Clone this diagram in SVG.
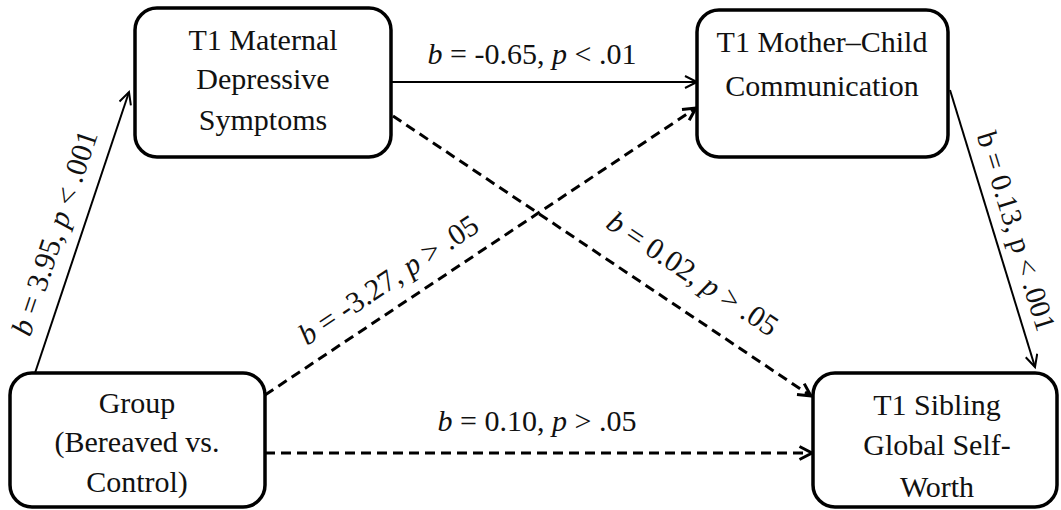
<svg xmlns="http://www.w3.org/2000/svg" width="1061" height="510" viewBox="0 0 1061 510">
  <style>
    .box { fill: #ffffff; stroke: #000000; stroke-width: 3.5; }
    .label { font-family: "Liberation Serif", "Times New Roman", serif; font-size: 30px; fill: #111111; }
    .node { text-anchor: middle; }
    .coef { text-anchor: middle; }
    .small { font-size: 29px; }
    .solid { fill: none; stroke: #000000; stroke-width: 2; }
    .dashed { fill: none; stroke: #000000; stroke-width: 3; stroke-dasharray: 10 6; }
    .it { font-style: italic; }
  </style>
  <defs>
    <marker id="arrowThin" markerUnits="userSpaceOnUse" markerWidth="16" markerHeight="16" refX="13" refY="7" orient="auto">
      <path d="M1,1 L13,7 L1,13" fill="none" stroke="#000000" stroke-width="2" stroke-dasharray="none"/>
    </marker>
    <marker id="arrowBold" markerUnits="userSpaceOnUse" markerWidth="18" markerHeight="18" refX="14" refY="8" orient="auto">
      <path d="M1.5,1.5 L14,8 L1.5,14.5" fill="none" stroke="#000000" stroke-width="3" stroke-dasharray="none"/>
    </marker>
  </defs>

  <!-- paths between the measures -->
  <g id="connectors">
    <path class="solid" d="M35,373 L129,92" marker-end="url(#arrowThin)"/>
    <path class="solid" d="M391,82 L697,82" marker-end="url(#arrowThin)"/>
    <path class="dashed" d="M393,116 L811,396" marker-end="url(#arrowBold)"/>
    <path class="dashed" d="M265,395 L696,108" marker-end="url(#arrowBold)"/>
    <path class="dashed" d="M265,453 L812,453" marker-end="url(#arrowBold)"/>
    <path class="solid" d="M950,90 L1035,367" marker-end="url(#arrowThin)"/>

    <text class="label coef" transform="translate(64,236) rotate(-71.5)"><tspan class="it">b</tspan> = 3.95, <tspan class="it">p</tspan> &lt; .001</text>
    <text class="label coef" x="532" y="64"><tspan class="it">b</tspan> = -0.65, <tspan class="it">p</tspan> &lt; .01</text>
    <text class="label coef" transform="translate(394,288) rotate(-33.66)"><tspan class="it">b</tspan> = -3.27, <tspan class="it">p</tspan> &gt; .05</text>
    <text class="label coef" transform="translate(687,282) rotate(33.8)"><tspan class="it">b</tspan> = 0.02, <tspan class="it">p</tspan> &gt; .05</text>
    <text class="label coef small" transform="translate(1007,234) rotate(72.9)">b = 0.13, p &lt; .001</text>
    <text class="label coef" x="537" y="431"><tspan class="it">b</tspan> = 0.10, <tspan class="it">p</tspan> &gt; .05</text>
  </g>

  <g id="maternal-depressive-symptoms">
    <rect class="box" x="135" y="8" width="256" height="149" rx="22"/>
    <text class="label node" x="263" y="50">T1 Maternal</text>
    <text class="label node" x="263" y="89">Depressive</text>
    <text class="label node" x="263" y="130">Symptoms</text>
  </g>

  <g id="mother-child-communication">
    <rect class="box" x="697" y="10" width="251" height="147" rx="22"/>
    <text class="label node" x="822" y="52">T1 Mother–Child</text>
    <text class="label node" x="822" y="96">Communication</text>
  </g>

  <g id="group">
    <rect class="box" x="10" y="373" width="255" height="134" rx="22"/>
    <text class="label node" x="137" y="413">Group</text>
    <text class="label node" x="137" y="452">(Bereaved vs.</text>
    <text class="label node" x="137" y="492">Control)</text>
  </g>

  <g id="sibling-global-self-worth">
    <rect class="box" x="813" y="373" width="244" height="134" rx="22"/>
    <text class="label node" x="937" y="415">T1 Sibling</text>
    <text class="label node" x="937" y="455">Global Self-</text>
    <text class="label node" x="937" y="497">Worth</text>
  </g>
</svg>
